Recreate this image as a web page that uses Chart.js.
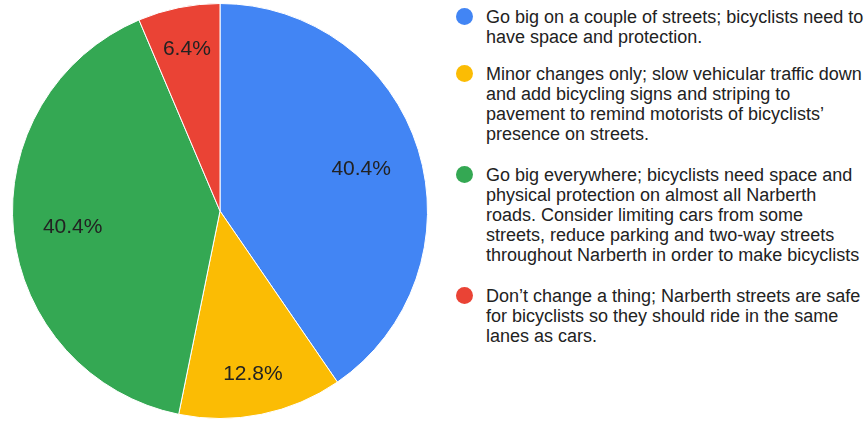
<!DOCTYPE html>
<html>
<head>
<meta charset="utf-8">
<script src="https://cdn.jsdelivr.net/npm/chart.js@4/dist/chart.umd.min.js"></script>
<style>
  body { margin: 0; background: #fff; }
  #wrap { position: relative; width: 867px; height: 421px; overflow: hidden; }
  #pie { position: absolute; left: 0; top: 0; }
  #legend { position: absolute; left: 455px; top: 7px; width: 440px;
            font-family: "Liberation Sans", Arial, sans-serif; font-size: 18px;
            color: #222; line-height: 20px; white-space: nowrap; }
  .item { position: relative; padding-left: 31px; margin-bottom: 21px; }
  .item:first-child { margin-bottom: 17px; }
  .dot { position: absolute; left: 1px; top: 1px; width: 17px; height: 17px; border-radius: 50%; }
</style>
</head>
<body>
<div id="wrap">
  <canvas id="pie" width="440" height="421"></canvas>
  <div id="legend"></div>
</div>
<script>
// survey answers (responses per option)
const opciones = [
    ["Go big on a couple of streets; bicyclists need to", "have space and protection."],
    ["Minor changes only; slow vehicular traffic down", "and add bicycling signs and striping to",
     "pavement to remind motorists of bicyclists\u2019", "presence on streets."],
    ["Go big everywhere; bicyclists need space and", "physical protection on almost all Narberth",
     "roads. Consider limiting cars from some", "streets, reduce parking and two-way streets",
     "throughout Narberth in order to make bicyclists"],
    ["Don\u2019t change a thing; Narberth streets are safe", "for bicyclists so they should ride in the same",
     "lanes as cars."]
];
const respuestas = [19, 6, 19, 3];
const colores = ["#4285F4", "#FBBC04", "#34A853", "#EA4335"];

// percentage text inside each slice, pushed in from the rim by the size of the text box
const porcentajes = {
    id: "porcentajes",
    afterDatasetsDraw(chart) {
        const { ctx } = chart;
        const meta = chart.getDatasetMeta(0);
        const total = respuestas.reduce((a, b) => a + b, 0);
        ctx.save();
        ctx.font = "21px 'Liberation Sans', Arial, sans-serif";
        ctx.fillStyle = "#222";
        ctx.textAlign = "center";
        ctx.textBaseline = "middle";
        meta.data.forEach((arc, i) => {
            const mid = (arc.startAngle + arc.endAngle) / 2;
            const pct = (respuestas[i] / total * 100).toFixed(1) + "%";
            const cx = Math.cos(mid), cy = Math.sin(mid);
            const halfW = ctx.measureText(pct).width / 2, halfH = 7.5;
            const r = arc.outerRadius * 0.86 - (halfW * Math.abs(cx) + halfH * Math.abs(cy));
            ctx.fillText(pct, arc.x + cx * r, arc.y + cy * r + 1.5);
        });
        ctx.restore();
    }
};

document.addEventListener("DOMContentLoaded", () => {
    const ctx = document.getElementById("pie");

    new Chart(ctx, {
        type: "pie",
        data: {
            labels: opciones.map(l => l.join(" ")),
            datasets: [{
                data: respuestas,
                backgroundColor: colores,
                borderColor: "#fff",
                borderWidth: 1
            }]
        },
        options: {
            responsive: false,
            animation: false,
            layout: { padding: { left: 12, right: 12, top: 3, bottom: 2 } },
            plugins: {
                legend: { display: false },
                tooltip: { enabled: false }
            }
        },
        plugins: [porcentajes]
    });

    const legend = document.getElementById("legend");
    opciones.forEach((lineas, i) => {
        const item = document.createElement("div");
        item.className = "item";
        const dot = document.createElement("span");
        dot.className = "dot";
        dot.style.background = colores[i];
        item.appendChild(dot);
        item.insertAdjacentHTML("beforeend", lineas.join("<br>"));
        legend.appendChild(item);
    });
});
</script>
</body>
</html>
